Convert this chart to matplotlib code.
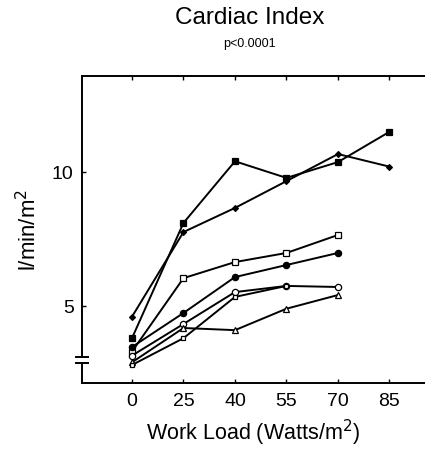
"""
Cardiac index versus work load, one line per subject.
"""

import matplotlib
matplotlib.use("Agg")
import matplotlib.pyplot as plt

work_loads = ["0", "25", "40", "55", "70", "85"]

# cardiac index (l/min/m2) per subject, None where not measured
ci_filled_square = [3.8, 8.1, 10.4, 9.78, 10.37, 11.5]
ci_filled_dot = [4.6, 7.76, 8.66, 9.66, 10.67, 10.2]
ci_open_square = [3.3, 6.04, 6.64, 6.98, 7.65, None]
ci_filled_circle = [3.47, 4.74, 6.08, 6.53, 6.98, None]
ci_open_circle = [3.15, 4.33, 5.52, 5.75, 5.71, None]
ci_open_triangle = [2.9, 4.18, 4.1, 4.9, 5.41, None]
ci_small_square = [2.8, 3.8, 5.34, 5.75, None, None]

series = [
    (ci_filled_square, "s", "black", 4.5),
    (ci_filled_dot, "D", "black", 3),
    (ci_open_square, "s", "white", 4.5),
    (ci_filled_circle, "o", "black", 4.5),
    (ci_open_circle, "o", "white", 4.5),
    (ci_open_triangle, "^", "white", 4),
    (ci_small_square, "s", "white", 3),
]

plt.rcParams["font.family"] = ["Liberation Sans", "DejaVu Sans"]

fig = plt.figure(figsize=(4.25, 4.5), dpi=100)
ax = fig.add_axes([0.193, 0.149, 0.807, 0.682])

for values, marker, face, size in series:
    xs = [i for i, v in enumerate(values) if v is not None]
    ys = [v for v in values if v is not None]
    ax.plot(xs, ys, color="black", linewidth=1.4, marker=marker,
            markerfacecolor=face, markeredgecolor="black", markersize=size,
            markeredgewidth=0.9)

ax.set_xlim(-0.97, 5.69)
ax.set_ylim(2.13, 13.58)
ax.set_xticks(range(len(work_loads)))
ax.set_xticklabels(work_loads)
ax.set_yticks([5, 10])
ax.tick_params(direction="in", length=3, labelsize=14, top=True, width=1)
ax.tick_params(axis="x", pad=7)
ax.tick_params(axis="y", pad=6)

for side in ["left", "bottom", "top"]:
    ax.spines[side].set_linewidth(1.4)
ax.spines["right"].set_visible(False)

# broken y axis
ax.spines["left"].set_bounds(3.1, 13.58)
ax.plot([0, 0], [2.13, 2.87], color="black", linewidth=1.4,
        transform=ax.get_yaxis_transform(), clip_on=False)
for yb in [2.87, 3.1]:
    ax.plot([-0.017, 0.017], [yb, yb], color="black", linewidth=1.4,
            transform=ax.get_yaxis_transform(), clip_on=False)

ax.set_xlabel("Work Load (Watts/m$^2$)", fontsize=15.5, labelpad=6)
ax.set_ylabel("l/min/m$^2$", fontsize=16, labelpad=8)

fig.text(0.588, 0.96, "Cardiac Index", ha="center", va="center", fontsize=17.5)
fig.text(0.588, 0.902, "p<0.0001", ha="center", va="center", fontsize=9)

fig.savefig("out.png", dpi=100)
